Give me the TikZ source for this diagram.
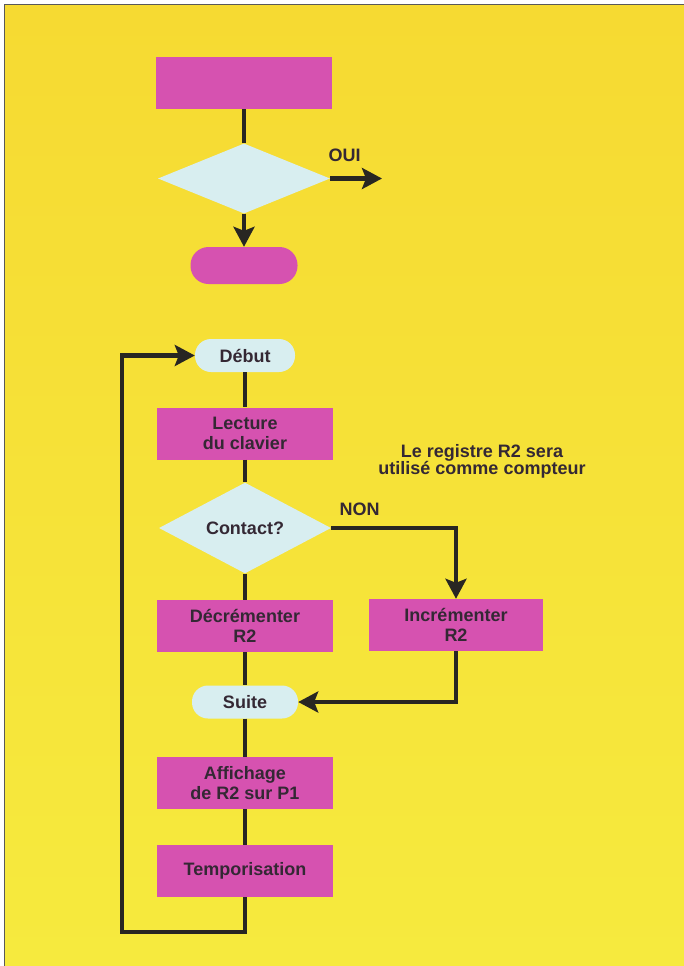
\documentclass[tikz,border=0pt]{standalone}
\usepackage{fontspec}
\setmainfont{Liberation Sans}
\usetikzlibrary{arrows.meta,shapes.geometric}
\definecolor{bgtop}{RGB}{246,218,50}
\definecolor{bgbot}{RGB}{246,234,62}
\definecolor{magbox}{RGB}{214,82,176}
\definecolor{bluebox}{RGB}{216,238,240}
\definecolor{inkline}{RGB}{40,38,34}
\definecolor{inktext}{RGB}{52,40,52}
\tikzset{
  lbl/.style={font=\fontsize{18}{20.5}\selectfont\bfseries, text=inktext, align=center},
  magrect/.style={lbl, rectangle, fill=magbox, inner sep=0pt, minimum width=176pt, minimum height=52pt},
  magpill/.style={lbl, rectangle, rounded corners=18pt, fill=magbox, inner sep=0pt, minimum width=107pt, minimum height=37pt},
  bluepill/.style={lbl, rectangle, rounded corners=16pt, fill=bluebox, inner sep=0pt, minimum width=100pt, minimum height=33pt},
  bluediam/.style={lbl, diamond, fill=bluebox, inner sep=0pt, minimum width=172pt, minimum height=70pt},
  conn/.style={draw=inkline, line width=4.5pt},
  arr/.style={conn, -{Stealth[length=20pt,width=21pt,inset=4pt]}}
}
\begin{document}
\begin{tikzpicture}[x=1pt,y=-1pt]
\useasboundingbox (0,0) rectangle (684,966);
\fill[white] (0,0) rectangle (684,966);
\shade[top color=bgtop, bottom color=bgbot] (4,5) rectangle (684,966);
\draw[gray!70!black, line width=1pt] (4,966) -- (4,5) -- (684,5);

% top example
\node[magrect] (top) at (244,83) {};
\node[bluediam] (d1) at (244,178.5) {};
\node[magpill] (pill) at (244,265.5) {};
\coordinate (ouiend) at (382,178.5);
\node[lbl, anchor=south west] (oui) at (325,165) {OUI};

% main flowchart
\node[bluepill] (debut) at (245,355.5) {Début};
\node[magrect] (lect) at (245,433.5) {Lecture\\du clavier};
\node[bluediam] (contact) at (245,528) {Contact?};
\node[magrect] (decr) at (245,626) {Décrémenter\\R2};
\node[magrect, minimum width=174pt] (incr) at (456,625) {Incrémenter\\R2};
\node[bluepill, minimum width=106pt] (suite) at (245,702) {Suite};
\node[magrect] (aff) at (245,783) {Affichage\\de R2 sur P1};
\node[magrect] (temp) at (245,871) {Temporisation};
\node[lbl, anchor=south west] (non) at (336,519) {NON};
\node[lbl, font=\fontsize{18}{17.5}\selectfont\bfseries] (note) at (482,461.5) {Le registre R2 sera\\utilisé comme compteur};
\coordinate (loopcorner) at (122,932);

% connectors
\draw[conn] (top.south) -- (d1.north);
\draw[arr] (d1.east) -- (ouiend);
\draw[arr] (d1.south) -- (pill.north);
\draw[conn] (debut.south) -- (lect.north);
\draw[conn] (lect.south) -- (contact.north);
\draw[arr] (contact.east) -| (incr.north);
\draw[conn] (contact.south) -- (decr.north);
\draw[conn] (decr.south) -- (suite.north);
\draw[arr] (incr.south) |- (suite.east);
\draw[conn] (suite.south) -- (aff.north);
\draw[conn] (aff.south) -- (temp.north);
\draw[arr] (temp.south) |- (loopcorner) |- (debut.west);
\end{tikzpicture}
\end{document}
